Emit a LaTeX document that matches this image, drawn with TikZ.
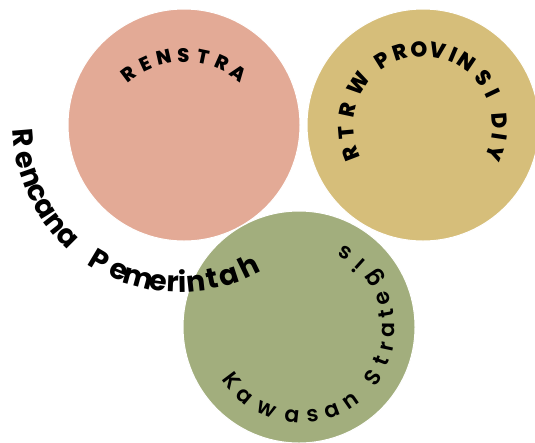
\documentclass[tikz,border=0pt]{standalone}
\usepackage{fontspec}
\setmainfont{Poppins}
\newfontfamily\heavyfont{Poppins ExtraBold}
\newfontfamily\semifont{Poppins SemiBold}
\definecolor{salmon}{HTML}{E3AA96}
\definecolor{mustard}{HTML}{D6BE7A}
\definecolor{sage}{HTML}{A2AE7D}

\begin{document}
\begin{tikzpicture}[
  x=1pt, y=1pt,
  disc/.style = {circle, draw=white, line width=1pt, inner sep=0pt, minimum size=232pt},
  letter/.style = {anchor=base, inner sep=0pt, text=black},
  capsA/.style = {letter, font=\heavyfont\fontsize{19.5}{21}\selectfont},
  capsB/.style = {letter, font=\heavyfont\fontsize{21.5}{23}\selectfont},
  bigtext/.style = {letter, font=\bfseries\fontsize{28.5}{30}\selectfont},
  midtext/.style = {letter, font=\semifont\fontsize{22}{24}\selectfont}
  ]
  \useasboundingbox (0,0) rectangle (535,-442);

  % the three discs
  \node[disc, fill=salmon] (renstra) at (184,-125) {};
  \node[disc, fill=mustard] (rtrw) at (423,-125) {};
  \node[disc, fill=sage] (kawasan) at (299,-327) {};

  % centres of the curved labels
  \coordinate (renstraArc) at (184,-148);
  \coordinate (rtrwArc) at (423,-126);
  \coordinate (pemArc) at (180,-125);
  \coordinate (kawArc) at (301,-329);

  % RENSTRA, clockwise over the top
  \foreach \ch/\a [count=\i, evaluate=\a as \r using \a-90] in
      {R/127, E/114.8, N/102.6, S/90.4, T/78.2, R/66, A/53.8}
    \node[capsA, rotate=\r] (ren-\i) at ([shift={(\a:86)}]renstraArc) {\ch};

  % RTRW PROVINSI DIY
  \foreach \ch/\a [count=\i, evaluate=\a as \r using \a-90] in
      {R/201, T/185, R/168, W/147, P/122, R/107.5, O/93, V/78.5,
       I/67, N/56, S/38.5, I/25.5, D/4, I/-8.5, Y/-21}
    \node[capsB, rotate=\r] (prov-\i) at ([shift={(\a:69.5)}]rtrwArc) {\ch};

  % Rencana Pemerintah, counter-clockwise below the salmon disc
  \foreach \ch/\a [count=\i, evaluate=\a as \r using \a+90] in
      {R/184.8, e/192.9, n/199.4, c/205.3, a/211.7, n/218.3, a/225,
       P/239.2, e/247.3, m/254.8, e/262.2, r/267.5, i/271, n/276,
       t/281.9, a/288.1, h/295.8}
    \node[bigtext, rotate=\r] (pem-\i) at ([shift={(\a:167.3)}]pemArc) {\ch};

  % Kawasan Strategis, inside the green disc
  \foreach \ch/\a [count=\i, evaluate=\a as \r using \a+90] in
      {K/217, a/230, w/247, a/264, s/277.5, a/291, n/305,
       S/326, t/338.5, r/348, a/359.5, t/10, e/20.5, g/34.5, i/48, s/60}
    \node[midtext, rotate=\r] (kaw-\i) at ([shift={(\a:94)}]kawArc) {\ch};
\end{tikzpicture}
\end{document}
